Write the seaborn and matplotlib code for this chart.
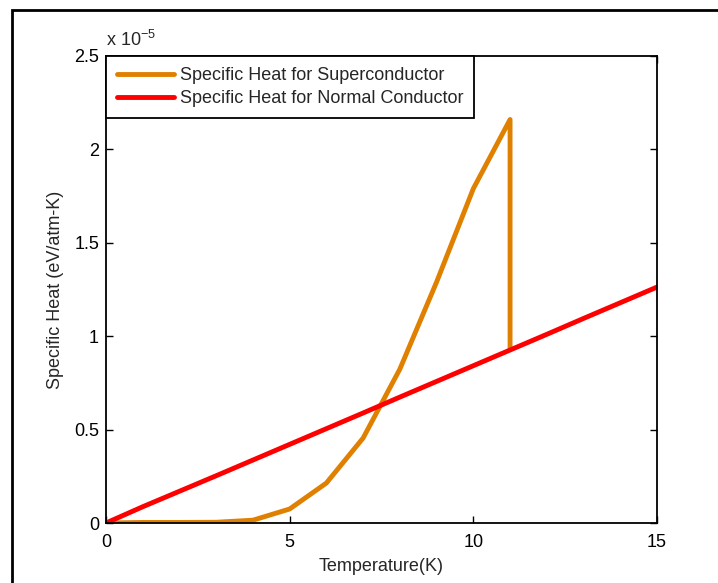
import matplotlib
matplotlib.use('Agg')
import matplotlib.pyplot as plt
import seaborn as sns
import pandas as pd
from matplotlib.patches import Rectangle

# данные (удельная теплоёмкость в единицах 1e-5 эВ/атм-К)
temp_super = [0, 1, 2, 3, 4, 5, 6, 7, 8, 9, 10, 11, 11]
heat_super = [0, 0.003, 0.003, 0.004, 0.015, 0.075, 0.214, 0.455, 0.824, 1.29, 1.79, 2.16, 0.93]
temp_normal = [0, 1, 2, 3, 4, 5, 6, 7, 8, 9, 10, 11, 12, 13, 14, 15]
heat_normal = [0, 0.087, 0.17, 0.253, 0.337, 0.421, 0.505, 0.589, 0.674, 0.758, 0.842,
               0.926, 1.010, 1.095, 1.179, 1.263]
x_ticks = [0, 5, 10, 15]
y_ticks = [0, 0.5, 1, 1.5, 2, 2.5]

sns.set_style('ticks')
plt.rcParams['font.family'] = ['Liberation Sans', 'DejaVu Sans']
plt.rcParams['mathtext.fontset'] = 'custom'
plt.rcParams['mathtext.rm'] = 'Liberation Sans'

df_s = pd.DataFrame({'T': temp_super, 'C': heat_super})
df_n = pd.DataFrame({'T': temp_normal, 'C': heat_normal})

fs = 13

fig = plt.figure(figsize=(7.18, 5.83), dpi=100)
ax = fig.add_axes([106/718, 1-523/583, (657-106)/718, (523-56)/583])

sns.lineplot(data=df_s, x='T', y='C', sort=False, estimator=None, ax=ax,
             color='#E08000', linewidth=3.5, label='Specific Heat for Superconductor')
sns.lineplot(data=df_n, x='T', y='C', sort=False, estimator=None, ax=ax,
             color='#FF0000', linewidth=3.5, label='Specific Heat for Normal Conductor')

ax.set_xlim(0, 15)
ax.set_ylim(0, 2.5)
ax.set_xticks(x_ticks)
ax.set_xticklabels([str(t) for t in x_ticks])
ax.set_yticks(y_ticks)
ax.set_yticklabels(['0', '0.5', '1', '1.5', '2', '2.5'])
ax.tick_params(direction='in', length=5, width=1, top=True, right=True,
               labelsize=fs, colors='black')
ax.tick_params(axis='x', pad=8)
ax.tick_params(axis='y', pad=5)
for s in ax.spines.values():
    s.set_visible(True)
    s.set_linewidth(1.3)
    s.set_color('black')

ax.set_xlabel('Temperature(K)', fontsize=fs, labelpad=5)
ax.set_ylabel('Specific Heat (eV/atm-K)', fontsize=fs, labelpad=7)
ax.text(0.0, 1.012, r'x 10$^{-5}$', transform=ax.transAxes, fontsize=fs,
        ha='left', va='bottom')

leg = ax.legend(loc='upper left', bbox_to_anchor=(0, 1), borderaxespad=0,
                fancybox=False, edgecolor='black', framealpha=1, fontsize=fs,
                handlelength=3.15, handletextpad=0.35, labelspacing=0.35,
                borderpad=0.6)
leg.get_frame().set_linewidth(1.3)

# внешняя рамка
fig.patches.append(Rectangle((12/718, -0.1), 1.0, (583-10)/583 + 0.1,
                             transform=fig.transFigure, fill=False,
                             edgecolor='black', linewidth=2))

fig.savefig('out.png', dpi=100)
